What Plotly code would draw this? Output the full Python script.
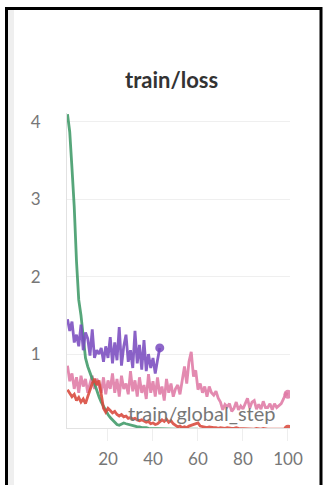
import plotly.graph_objects as go

W, H = 326, 485

# training steps and loss values per run
steps_green = list(range(2, 61))
loss_green = [4.10, 3.87, 3.40, 2.90, 2.20, 1.70, 1.50, 1.22, 0.95, 0.84,
              0.75, 0.68, 0.62, 0.52, 0.45, 0.38, 0.32, 0.27, 0.22, 0.18,
              0.15, 0.12, 0.09, 0.08, 0.10, 0.11, 0.10, 0.09, 0.08, 0.07,
              0.07, 0.06, 0.06, 0.05, 0.05, 0.05, 0.04, 0.04, 0.04, 0.04,
              0.04, 0.04, 0.04, 0.04, 0.04, 0.04, 0.03, 0.03, 0.03, 0.03,
              0.03, 0.03, 0.03, 0.03, 0.03, 0.03, 0.03, 0.03, 0.03]

steps_purple = list(range(2, 44))
loss_purple = [1.45, 1.30, 1.42, 1.15, 1.25, 1.10, 1.38, 1.05, 1.28, 1.20,
               0.98, 1.32, 0.95, 1.05, 1.00, 1.08, 0.90, 1.10, 0.95, 1.22,
               0.88, 1.15, 0.92, 1.35, 0.85, 1.10, 1.25, 0.90, 1.05, 0.82,
               1.30, 0.88, 1.12, 0.80, 1.18, 0.78, 1.00, 0.82, 0.95, 0.75,
               0.92, 1.08]

steps_pink = list(range(2, 101))
loss_pink = [0.85, 0.65, 0.75, 0.55, 0.70, 0.50, 0.72, 0.58, 0.68, 0.50,
             0.62, 0.72, 0.55, 0.68,
             0.60, 0.50, 0.70, 0.48, 0.66, 0.55, 0.75, 0.50, 0.68, 0.45,
             0.72, 0.55, 0.62, 0.48, 0.78, 0.52, 0.66, 0.45, 0.70, 0.50,
             0.60, 0.42, 0.74, 0.50, 0.65, 0.45, 0.70, 0.48, 0.58, 0.40,
             0.68, 0.50, 0.62, 0.45, 0.55,
             0.60, 0.48, 0.67, 0.84, 0.62, 0.90, 1.03, 0.71, 0.79, 0.54,
             0.62, 0.50, 0.58, 0.45, 0.58, 0.50, 0.47, 0.52, 0.43, 0.38,
             0.28, 0.35, 0.32, 0.36, 0.26, 0.30, 0.38, 0.28, 0.33, 0.29,
             0.36, 0.43, 0.30, 0.38, 0.40, 0.29, 0.35, 0.29, 0.39, 0.31,
             0.31, 0.36, 0.28, 0.36, 0.31, 0.34, 0.36, 0.42, 0.49, 0.48]

steps_red = list(range(2, 101))
loss_red = [0.54, 0.50, 0.45, 0.48, 0.40, 0.44, 0.38, 0.42, 0.36, 0.45,
            0.55, 0.62, 0.68, 0.60, 0.66, 0.45, 0.30, 0.25, 0.30, 0.27,
            0.24, 0.26, 0.22, 0.20, 0.22, 0.19, 0.20, 0.17, 0.18, 0.16,
            0.17, 0.15, 0.14, 0.15, 0.13, 0.12, 0.13, 0.10, 0.11, 0.09,
            0.10, 0.12, 0.15, 0.13, 0.16, 0.12, 0.14, 0.10, 0.08, 0.06,
            0.07, 0.05, 0.06, 0.05, 0.07, 0.08, 0.09, 0.10, 0.11, 0.07,
            0.06, 0.05, 0.05, 0.06, 0.05, 0.05, 0.05, 0.04, 0.05, 0.04,
            0.04, 0.05, 0.04, 0.04, 0.04, 0.05, 0.04, 0.04, 0.04, 0.04,
            0.04, 0.04, 0.04, 0.03, 0.04, 0.04, 0.03, 0.04, 0.03, 0.03,
            0.03, 0.03, 0.03, 0.03, 0.03, 0.03, 0.03, 0.03, 0.03]

y_ticks = [1, 2, 3, 4]
x_ticks = [20, 40, 60, 80, 100]

GREEN = "#3f9a68"
PURPLE = "#7a4cc0"
PINK = "#e07aa6"
RED = "#d9483c"

fig = go.Figure()

def add_run(xs, ys, color, end_marker):
    fig.add_trace(go.Scatter(x=xs, y=ys, mode="lines",
                             line=dict(color=color, width=2.8),
                             opacity=0.88, hoverinfo="skip"))
    if end_marker:
        fig.add_trace(go.Scatter(x=[xs[-1]], y=[ys[-1]], mode="markers",
                                 marker=dict(color=color, size=9),
                                 opacity=0.85, hoverinfo="skip"))

add_run(steps_pink, loss_pink, PINK, True)
add_run(steps_green, loss_green, GREEN, False)
add_run(steps_red, loss_red, RED, True)
add_run(steps_purple, loss_purple, PURPLE, True)

# plot area in pixels
L, R, T, B = 67, 290, 113, 428

fig.update_layout(
    width=W, height=H,
    margin=dict(l=0, r=0, t=0, b=0),
    paper_bgcolor="white", plot_bgcolor="white",
    showlegend=False,
    font=dict(family="Lato", color="#777777", size=17),
    xaxis=dict(domain=[L / W, R / W], range=[1.78, 100.9],
               tickvals=x_ticks, ticks="outside", ticklen=12,
               tickcolor="#eeeeee", ticklabelstandoff=4,
               showgrid=False, zeroline=False, automargin=False,
               showline=True, linecolor="#e2e2e2", linewidth=1,
               tickfont=dict(size=17, color="#777777")),
    yaxis=dict(domain=[1 - B / H, 1 - T / H], range=[0.045, 4.115],
               tickvals=y_ticks, showgrid=True, gridcolor="#efefef",
               gridwidth=1, zeroline=False, automargin=False,
               showline=True, linecolor="#e2e2e2", linewidth=1,
               ticks="", ticklabelstandoff=22,
               tickfont=dict(size=17, color="#777777")),
)

# panel title and in-plot axis label
fig.add_annotation(text="<b>train/loss</b>", x=171 / W, y=1 - 80 / H,
                   xref="paper", yref="paper", showarrow=False,
                   font=dict(family="Lato", size=22, color="#333333"),
                   xanchor="center", yanchor="middle")
fig.add_annotation(text="train/global_step", x=201 / W, y=1 - 413 / H,
                   xref="paper", yref="paper", showarrow=False,
                   font=dict(family="Lato", size=20, color="#777777"),
                   xanchor="center", yanchor="middle")

# panel frame
frame = dict(type="line", xref="paper", yref="paper",
             line=dict(color="black", width=3))
fig.add_shape(x0=6.5 / W, x1=6.5 / W, y0=0, y1=1 - 7 / H, **frame)
fig.add_shape(x0=5 / W, x1=322 / W, y0=1 - 8.5 / H, y1=1 - 8.5 / H, **frame)
fig.add_shape(x0=321 / W, x1=321 / W, y0=0, y1=1 - 7 / H, **frame)
fig.add_shape(type="rect", xref="paper", yref="paper",
              x0=8 / W, x1=14 / W, y0=0, y1=1 - 10 / H,
              fillcolor="#efefef", line=dict(width=0), layer="below")

fig.write_html("out.html")
